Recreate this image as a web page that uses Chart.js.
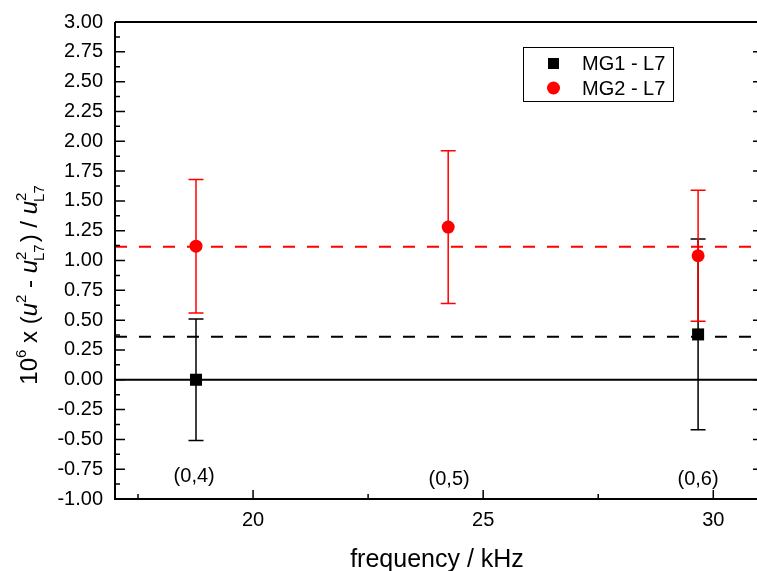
<!DOCTYPE html>
<html>
<head>
<meta charset="utf-8">
<script src="https://cdn.jsdelivr.net/npm/chart.js@4.4.0/dist/chart.umd.min.js"></script>
<style>
  html, body { margin: 0; padding: 0; background: #fff; overflow: hidden; }
  canvas { display: block; }
</style>
</head>
<body>
<canvas id="chart" width="757" height="571"></canvas>
<script>
// ===== data =====
const freqMG1 = [18.76, 29.67];
const valMG1  = [0.00, 0.38];
const errMG1  = [0.51, 0.80];

const freqMG2 = [18.76, 24.24, 29.67];
const valMG2  = [1.12, 1.28, 1.04];
const errMG2  = [0.56, 0.64, 0.55];

const meanMG1 = 0.36;
const meanMG2 = 1.115;

const modeLabels = ['(0,4)', '(0,5)', '(0,6)'];
const modeFreq   = [18.72, 24.26, 29.67];
const modeY      = [-0.81, -0.84, -0.84];

const xTicks = [20, 25, 30];
const yTicks = [-1, -0.75, -0.5, -0.25, 0, 0.25, 0.5, 0.75, 1, 1.25, 1.5, 1.75, 2, 2.25, 2.5, 2.75, 3];

const xMin = 17, xMax = 30.95;
const yMin = -1, yMax = 3;

const FONT = '"Liberation Sans", Arial, Helvetica, sans-serif';

// ===== helpers =====
function hline(y) {
  return [{ x: xMin, y: y }, { x: xMax, y: y }];
}

// error bars, drawn under the markers
const errorBars = {
  id: 'errorBars',
  beforeDatasetsDraw(chart) {
    const { ctx, scales: { x, y } } = chart;
    const sets = [
      [freqMG1, valMG1, errMG1, '#000'],
      [freqMG2, valMG2, errMG2, '#ff0000']
    ];
    ctx.save();
    ctx.lineWidth = 1.5;
    sets.forEach(([fx, vy, ey, col]) => {
      ctx.strokeStyle = col;
      fx.forEach((f, i) => {
        const px = x.getPixelForValue(f);
        const top = y.getPixelForValue(vy[i] + ey[i]);
        const bot = y.getPixelForValue(vy[i] - ey[i]);
        ctx.beginPath();
        ctx.moveTo(px, top); ctx.lineTo(px, bot);
        ctx.moveTo(px - 7.5, top); ctx.lineTo(px + 7.5, top);
        ctx.moveTo(px - 7.5, bot); ctx.lineTo(px + 7.5, bot);
        ctx.stroke();
      });
    });
    ctx.restore();
  }
};

// frame, inward ticks, mode labels, titles, legend
const decorations = {
  id: 'decorations',
  afterDraw(chart) {
    const { ctx, chartArea: a, scales: { x, y } } = chart;
    ctx.save();
    ctx.strokeStyle = '#000';

    // frame (left, bottom, top)
    ctx.lineWidth = 2;
    ctx.beginPath();
    ctx.moveTo(a.left, a.top); ctx.lineTo(a.right, a.top);
    ctx.moveTo(a.left, a.top); ctx.lineTo(a.left, a.bottom);
    ctx.moveTo(a.left - 1, a.bottom); ctx.lineTo(a.right, a.bottom);
    ctx.stroke();

    // y ticks (major every 0.25, minor halfway), left and right
    ctx.lineWidth = 1.5;
    ctx.beginPath();
    yTicks.forEach((v, i) => {
      const py = y.getPixelForValue(v);
      ctx.moveTo(a.left, py); ctx.lineTo(a.left + 10, py);
      ctx.moveTo(a.right, py); ctx.lineTo(a.right - 4, py);
      if (i < yTicks.length - 1) {
        const pm = y.getPixelForValue((v + yTicks[i + 1]) / 2);
        ctx.moveTo(a.left, pm); ctx.lineTo(a.left + 5, pm);
      }
    });
    // x ticks
    xTicks.forEach((v) => {
      const px = x.getPixelForValue(v);
      ctx.moveTo(px, a.bottom); ctx.lineTo(px, a.bottom - 9);
      const pm = x.getPixelForValue(v - 2.5);
      ctx.moveTo(pm, a.bottom); ctx.lineTo(pm, a.bottom - 5);
    });
    ctx.stroke();

    // mode labels
    ctx.fillStyle = '#000';
    ctx.font = '20px ' + FONT;
    ctx.textAlign = 'center';
    ctx.textBaseline = 'middle';
    modeLabels.forEach((t, i) => {
      ctx.fillText(t, x.getPixelForValue(modeFreq[i]), y.getPixelForValue(modeY[i]));
    });

    // x title
    ctx.font = '25px ' + FONT;
    ctx.textBaseline = 'alphabetic';
    ctx.fillText('frequency / kHz', 437, 567);

    // y title (rotated, with super/subscripts)
    drawYTitle(ctx, 37, 285);

    // legend
    ctx.lineWidth = 1;
    ctx.strokeRect(523.5, 47.5, 150, 54);
    ctx.fillStyle = '#000';
    ctx.fillRect(548, 58, 11, 11);
    ctx.fillStyle = '#ff0000';
    ctx.beginPath();
    ctx.arc(553.5, 88, 6.5, 0, Math.PI * 2);
    ctx.fill();
    ctx.fillStyle = '#000';
    ctx.font = '20px ' + FONT;
    ctx.textAlign = 'left';
    ctx.textBaseline = 'middle';
    ctx.fillText('MG1 - L7', 582, 64);
    ctx.fillText('MG2 - L7', 582, 89);

    ctx.restore();
  }
};

function drawYTitle(ctx, cx, cy) {
  const N = '24px ' + FONT, I = 'italic 24px ' + FONT, S = '15px ' + FONT;
  const parts = [
    { t: '10', f: N }, { t: '6', f: S, dy: -11 },
    { t: ' x (', f: N }, { t: 'u', f: I }, { t: '2', f: S, dy: -11 },
    { t: ' - ', f: N }, { t: 'u', f: I }, { t: '2', f: S, dy: -11, sub: 'L7' },
    { t: ') / ', f: N }, { t: 'u', f: I }, { t: '2', f: S, dy: -11, sub: 'L7' }
  ];
  ctx.save();
  parts.forEach(p => {
    ctx.font = p.f;
    p.w = ctx.measureText(p.t).width;
    if (p.sub) { p.w = Math.max(p.w, ctx.measureText(p.sub).width) + 1; }
  });
  const total = parts.reduce((s, p) => s + p.w, 0);
  ctx.translate(cx, cy);
  ctx.rotate(-Math.PI / 2);
  ctx.textAlign = 'left';
  ctx.textBaseline = 'alphabetic';
  ctx.fillStyle = '#000';
  let u = -total / 2;
  parts.forEach(p => {
    ctx.font = p.f;
    ctx.fillText(p.t, u + 1, p.dy || 0);
    if (p.sub) ctx.fillText(p.sub, u, 7);
    u += p.w;
  });
  ctx.restore();
}

// ===== chart =====
Chart.defaults.color = '#000';
Chart.defaults.font.family = FONT;

new Chart(document.getElementById('chart').getContext('2d'), {
  type: 'scatter',
  data: {
    datasets: [
      { type: 'line', data: hline(0), borderColor: '#000', borderWidth: 2, pointRadius: 0 },
      { type: 'line', data: hline(meanMG1), borderColor: '#000', borderWidth: 2, borderDash: [12, 12], pointRadius: 0 },
      { type: 'line', data: hline(meanMG2), borderColor: '#ff0000', borderWidth: 2, borderDash: [12, 12], pointRadius: 0 },
      {
        label: 'MG1 - L7',
        data: freqMG1.map((f, i) => ({ x: f, y: valMG1[i] })),
        pointStyle: 'rect', pointRadius: 8.5,
        backgroundColor: '#000', borderColor: '#000', borderWidth: 0
      },
      {
        label: 'MG2 - L7',
        data: freqMG2.map((f, i) => ({ x: f, y: valMG2[i] })),
        pointStyle: 'circle', pointRadius: 6.5,
        backgroundColor: '#ff0000', borderColor: '#ff0000', borderWidth: 0
      }
    ]
  },
  options: {
    responsive: false,
    devicePixelRatio: 1,
    animation: false,
    layout: { autoPadding: false, padding: { top: 22, right: 0, left: 0, bottom: 0 } },
    plugins: { legend: { display: false }, tooltip: { enabled: false } },
    scales: {
      x: {
        type: 'linear', min: xMin, max: xMax,
        afterBuildTicks: (s) => { s.ticks = xTicks.map(v => ({ value: v })); },
        afterFit: (s) => { s.height = 72; s.paddingLeft = 0; s.paddingRight = 0; },
        grid: { display: false, drawTicks: false },
        border: { display: false },
        ticks: { padding: 9, font: { size: 20 }, callback: (v) => String(v) }
      },
      y: {
        type: 'linear', min: yMin, max: yMax,
        afterBuildTicks: (s) => { s.ticks = yTicks.map(v => ({ value: v })); },
        afterFit: (s) => { s.width = 115; s.paddingTop = 0; s.paddingBottom = 0; },
        grid: { display: false, drawTicks: false },
        border: { display: false },
        ticks: { padding: 12, font: { size: 20 }, callback: (v) => v.toFixed(2) }
      }
    }
  },
  plugins: [errorBars, decorations]
});
</script>
</body>
</html>
